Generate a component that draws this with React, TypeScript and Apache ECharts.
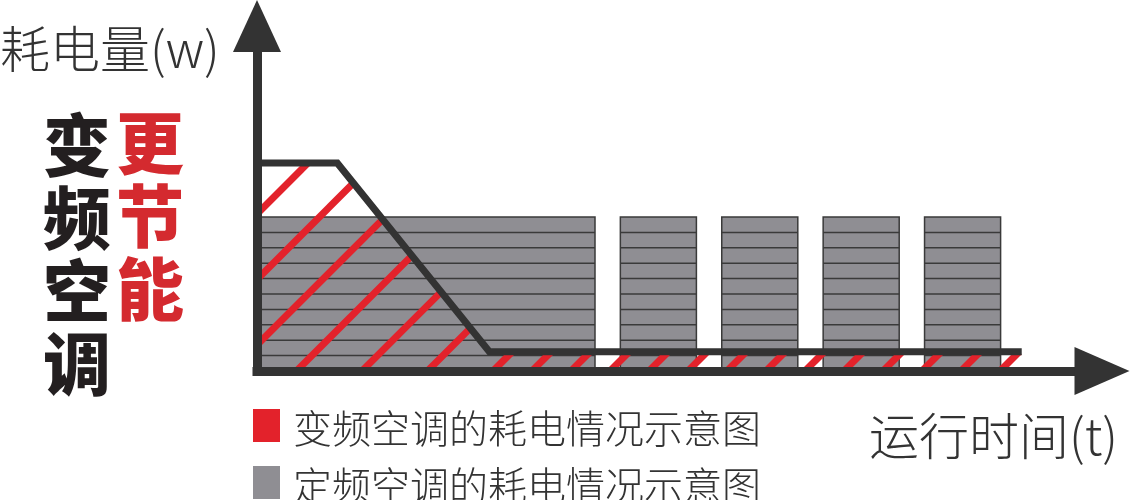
import React, { useEffect, useRef } from "react";
import * as echarts from "echarts";

// 定频空调：开/停循环 (时间区间, 耗电量)
const FIXED_START = [0, 43, 55, 67, 79];
const FIXED_END = [40, 52, 64, 76, 88];
const FIXED_POWER = [10, 10, 10, 10, 10];

// 变频空调：耗电曲线
const VAR_TIME = [0, 9.5, 27.5, 90.5];
const VAR_POWER = [13.5, 13.5, 1.25, 1.25];

const X_MAX = 100;
const Y_MAX = 22.4;
const BAND_STEP = 1;

const VAR_NAME = "变频空调的耗电情况示意图";
const FIXED_NAME = "定频空调的耗电情况示意图";
const Y_NAME = "耗电量(w)";
const X_NAME = "运行时间(t)";
const TITLE_BLACK = ["变", "频", "空", "调"];
const TITLE_RED = ["更", "节", "能"];

const FONT = "'Noto Sans CJK SC', 'Noto Sans', sans-serif";
const DARK = "#333333";
const RED = "#e3222b";
const RED_TEXT = "#d42a2f";
const GRAY = "#8f8e93";

// hatch geometry (px)
const HATCH_START = -157;
const HATCH_PITCH_WIDE = 65.5;
const HATCH_PITCH_NARROW = 39;
const HATCH_WIDTH = 7;

function renderFixed(params: any, api: any) {
    const x0 = api.value(0);
    const x1 = api.value(1);
    const v = api.value(2);
    const tl = api.coord([x0, v]);
    const br = api.coord([x1, 0]);
    const children: any[] = [
        {
            type: "rect",
            shape: { x: tl[0], y: tl[1], width: br[0] - tl[0], height: br[1] - tl[1] },
            style: { fill: GRAY, stroke: "#3a3a3a", lineWidth: 1.5 },
        },
    ];
    for (let k = BAND_STEP; k < v; k += BAND_STEP) {
        const y = api.coord([x0, k])[1];
        children.push({
            type: "line",
            shape: { x1: tl[0], y1: y, x2: br[0], y2: y },
            style: { stroke: "#3a3a3a", lineWidth: 1.5 },
        });
    }
    return { type: "group", children };
}

function renderHatch(params: any, api: any) {
    if (params.dataIndex !== 0) return null;
    const pts = VAR_TIME.map((t, i) => api.coord([t, VAR_POWER[i]]));
    const origin = api.coord([0, 0]);
    const xL = origin[0];
    const yB = origin[1];
    const xR = pts[pts.length - 1][0];

    const lineYAt = (x: number) => {
        if (x <= pts[0][0]) return pts[0][1];
        for (let i = 1; i < pts.length; i++) {
            if (x <= pts[i][0]) {
                const [ax, ay] = pts[i - 1];
                const [bx, by] = pts[i];
                return ay + ((by - ay) * (x - ax)) / (bx - ax);
            }
        }
        return pts[pts.length - 1][1];
    };
    const gap = (c: number, t: number) => yB - t - lineYAt(c + t);

    // the knee where the curve reaches its low level
    const knee = pts[2];
    const kneeC = knee[0] - (yB - knee[1]);

    const children: any[] = [];
    let c = xL + HATCH_START;
    while (c < xR) {
        const tA = Math.max(0, xL - c);
        const tB = xR - c;
        if (tB > tA && gap(c, tA) > 0) {
            let tEnd = tB;
            if (gap(c, tB) <= 0) {
                let lo = tA;
                let hi = tB;
                for (let n = 0; n < 40; n++) {
                    const mid = (lo + hi) / 2;
                    if (gap(c, mid) > 0) lo = mid;
                    else hi = mid;
                }
                tEnd = lo;
            }
            children.push({
                type: "line",
                shape: { x1: c + tA, y1: yB - tA, x2: c + tEnd, y2: yB - tEnd },
                style: { stroke: RED, lineWidth: HATCH_WIDTH, lineCap: "butt" },
            });
        }
        c += c < kneeC ? HATCH_PITCH_WIDE : HATCH_PITCH_NARROW;
    }
    return { type: "group", children };
}

function titleColumn(chars: string[], x: number, y: number, fill: string) {
    return chars.map((ch, i) => ({
        type: "text",
        x,
        y: y + i * 73,
        style: { text: ch, font: `900 68px ${FONT}`, fill, verticalAlign: "middle" },
    }));
}

const App: React.FC = () => {
    const ref = useRef<HTMLDivElement | null>(null);

    useEffect(() => {
        if (!ref.current) return;
        const inst = echarts.init(ref.current, undefined, { renderer: "svg" });

        const hiddenAxis = {
            axisTick: { show: false },
            axisLabel: { show: false },
            splitLine: { show: false },
        };

        inst.setOption({
            animation: false,
            grid: { left: 257, top: 26, width: 845, height: 345 },
            xAxis: {
                type: "value",
                min: 0,
                max: X_MAX,
                z: 10,
                axisLine: {
                    show: true,
                    symbol: ["none", "triangle"],
                    symbolSize: [48, 55],
                    lineStyle: { color: DARK, width: 9, cap: "square" },
                },
                ...hiddenAxis,
            },
            yAxis: {
                type: "value",
                min: 0,
                max: Y_MAX,
                z: 10,
                axisLine: {
                    show: true,
                    symbol: ["none", "triangle"],
                    symbolSize: [48, 52],
                    lineStyle: { color: DARK, width: 9, cap: "square" },
                },
                ...hiddenAxis,
            },
            legend: {
                data: [VAR_NAME, FIXED_NAME],
                orient: "vertical",
                left: 248,
                top: 401,
                height: 130,
                icon: "rect",
                itemWidth: 27,
                itemHeight: 33,
                itemGap: 18,
                selectedMode: false,
                textStyle: {
                    fontSize: 39,
                    color: DARK,
                    fontFamily: FONT,
                    fontWeight: 300,
                    padding: [0, 0, 0, 8],
                },
            },
            graphic: [
                {
                    type: "text",
                    x: 0,
                    y: 46,
                    style: { text: Y_NAME, font: `300 50px ${FONT}`, fill: DARK, verticalAlign: "middle" },
                },
                {
                    type: "text",
                    x: 869,
                    y: 433,
                    style: { text: X_NAME, font: `300 50px ${FONT}`, fill: DARK, verticalAlign: "middle" },
                },
                ...titleColumn(TITLE_BLACK, 43, 141, "#231f20"),
                ...titleColumn(TITLE_RED, 116, 139, RED_TEXT),
            ],
            series: [
                {
                    type: "custom",
                    name: VAR_NAME,
                    renderItem: renderHatch,
                    data: [[VAR_TIME[0], VAR_POWER[0]]],
                    encode: { x: 0, y: 1 },
                    itemStyle: { color: RED },
                    silent: true,
                    z: 3,
                },
                {
                    type: "custom",
                    name: FIXED_NAME,
                    renderItem: renderFixed,
                    data: FIXED_START.map((s, i) => [s, FIXED_END[i], FIXED_POWER[i]]),
                    encode: { x: [0, 1], y: 2 },
                    itemStyle: { color: GRAY },
                    silent: true,
                    z: 2,
                },
                {
                    type: "line",
                    name: VAR_NAME,
                    data: VAR_TIME.map((t, i) => [t, VAR_POWER[i]]),
                    symbol: "none",
                    lineStyle: { color: DARK, width: 7, join: "miter", cap: "butt" },
                    itemStyle: { color: RED },
                    silent: true,
                    z: 4,
                },
            ],
        });

        return () => inst.dispose();
    }, []);

    return <div ref={ref} style={{ position: "fixed", left: 0, top: 0, width: 1133, height: 500 }} />;
};

export default App;
